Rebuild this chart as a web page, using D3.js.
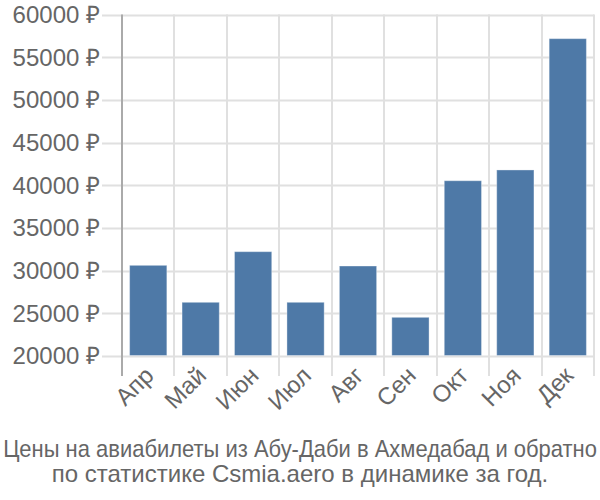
<!DOCTYPE html>
<html>
<head>
<meta charset="utf-8">
<script src="https://cdn.jsdelivr.net/npm/d3@7"></script>
<style>
  body { margin: 0; background: #fff; }
  svg text { font-family: "Liberation Sans", Arial, sans-serif; fill: #666; }
</style>
</head>
<body>
<svg id="chart" width="600" height="500"></svg>
<script>
const months = ["Апр", "Май", "Июн", "Июл", "Авг", "Сен", "Окт", "Ноя", "Дек"];
const prices = [30620, 26290, 32220, 26290, 30540, 24530, 40530, 41790, 57170];
const yTicks = [20000, 25000, 30000, 35000, 40000, 45000, 50000, 55000, 60000];
const titleLines = [
  "Цены на авиабилеты из Абу-Даби в Ахмедабад и обратно",
  "по статистике Csmia.aero в динамике за год."
];

const svg = d3.select("#chart");
const pLeft = 122, pRight = 594, pTop = 14.5, pBottom = 356;

const x = d3.scaleBand().domain(months).range([pLeft, pRight]).paddingInner(0.29).paddingOuter(0.145);
const xGrid = d3.scaleBand().domain(months).range([pLeft, pRight]).padding(0);
const y = d3.scaleLinear().domain([20000, 60000]).range([pBottom, pTop]);

// horizontal gridlines + y tick marks
svg.append("g").selectAll("line").data(yTicks).join("line")
  .attr("x1", pLeft - 20).attr("x2", pRight)
  .attr("y1", d => Math.round(y(d)) + 0.5).attr("y2", d => Math.round(y(d)) + 0.5)
  .attr("stroke", "#e0e0e0").attr("stroke-width", 2);

// vertical gridlines at band boundaries
const bounds = months.map(m => xGrid(m)).concat([pRight]);
svg.append("g").selectAll("line").data(bounds.slice(1)).join("line")
  .attr("x1", d => Math.round(d)).attr("x2", d => Math.round(d))
  .attr("y1", pTop).attr("y2", pBottom + 20)
  .attr("stroke", "#e0e0e0").attr("stroke-width", 2);

// y axis line
svg.append("line")
  .attr("x1", pLeft).attr("x2", pLeft).attr("y1", pTop).attr("y2", pBottom + 20)
  .attr("stroke", "#aaa").attr("stroke-width", 2);

// bars
svg.append("g").selectAll("rect").data(prices).join("rect")
  .attr("x", (d, i) => x(months[i]))
  .attr("width", x.bandwidth())
  .attr("y", d => y(d))
  .attr("height", d => y(20000) - y(d) - 0.5)
  .attr("fill", "#4e79a7")
  .attr("stroke", "rgba(255,255,255,0.35)").attr("stroke-width", 1);

// y labels
svg.append("g").selectAll("text").data(yTicks).join("text")
  .attr("x", 100).attr("y", d => y(d)).attr("dy", "0.35em")
  .attr("text-anchor", "end").attr("font-size", 24)
  .text(d => d + " ₽");

// x labels
svg.append("g").selectAll("text").data(months).join("text")
  .attr("transform", m => `translate(${x(m) + x.bandwidth() / 2 + 7},${pBottom + 21}) rotate(-45)`)
  .attr("text-anchor", "end").attr("font-size", 24)
  .text(m => m);

// title
svg.append("g").selectAll("text").data(titleLines).join("text")
  .attr("transform", (d, i) => i === 0
    ? `translate(300,457) scale(0.915,1)`
    : `translate(300,482)`)
  .attr("text-anchor", "middle").attr("font-size", 24)
  .text(d => d);
</script>
</body>
</html>
